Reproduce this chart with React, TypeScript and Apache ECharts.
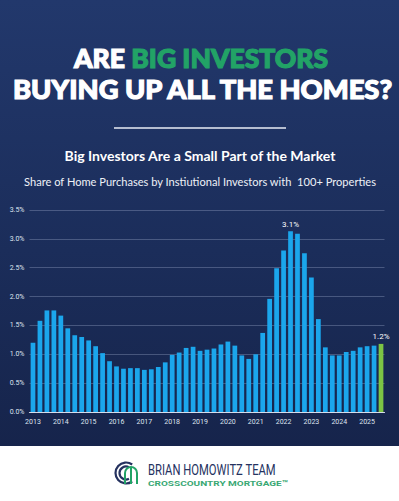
import React, { useEffect, useRef } from "react";
import * as echarts from "echarts";

const years = ["2013", "2014", "2015", "2016", "2017", "2018", "2019", "2020", "2021", "2022", "2023", "2024", "2025"];
const quarters = ["Q1", "Q2", "Q3", "Q4"];
// Share of home purchases (%) by institutional investors with 100+ properties, quarterly 2013 Q1 – 2025 Q3
const shareValues = [
  1.2, 1.58, 1.76, 1.76,
  1.67, 1.45, 1.33, 1.3,
  1.24, 1.14, 1.02, 0.88,
  0.79, 0.75, 0.76, 0.76,
  0.73, 0.74, 0.78, 0.86,
  0.99, 1.03, 1.11, 1.13,
  1.06, 1.08, 1.1, 1.17,
  1.22, 1.15, 0.98, 0.92,
  1.0, 1.37, 1.96, 2.49,
  2.8, 3.13, 3.09, 2.75,
  2.33, 1.61, 1.12, 0.98,
  0.98, 1.04, 1.06, 1.12,
  1.14, 1.15, 1.18,
];
const labelledPoints: Record<number, string> = { 37: "3.1%", 50: "1.2%" };
const yTicks = [0, 0.5, 1, 1.5, 2, 2.5, 3, 3.5];

const categories = years.flatMap((y) => quarters.map((q) => `${y} ${q}`)).slice(0, shareValues.length);

const BLUE = "#1ba6ec";
const GREEN = "#7cc444";
const TITLE_GREEN = "#22a366";
const NAVY = "#25325f";

export default function App() {
  const ref = useRef<HTMLDivElement>(null);
  useEffect(() => {
    if (!ref.current) return;
    const chart = echarts.init(ref.current, undefined, { renderer: "svg" });
    const lastIdx = shareValues.length - 1;
    chart.setOption({
      animation: false,
      backgroundColor: {
        type: "linear",
        x: 0, y: 0, x2: 0, y2: 1,
        colorStops: [
          { offset: 0, color: "#22386c" },
          { offset: 0.5, color: "#1b2d5a" },
          { offset: 0.9, color: "#16244b" },
          { offset: 1, color: "#16244b" },
        ],
      },
      grid: { left: 29.5, right: 14.5, top: 210, bottom: 89, containLabel: false },
      xAxis: {
        type: "category",
        data: categories,
        axisTick: { show: false },
        axisLine: { lineStyle: { color: "#d6dcea", width: 1.2 } },
        axisLabel: {
          interval: 3,
          margin: 6,
          color: "#dfe4ef",
          fontSize: 7,
          fontFamily: "Roboto",
          formatter: (v: string) => v.split(" ")[0],
        },
      },
      yAxis: {
        type: "value",
        min: yTicks[0],
        max: yTicks[yTicks.length - 1],
        interval: 0.5,
        axisLabel: {
          margin: 5,
          color: "#dfe4ef",
          fontSize: 7,
          fontFamily: "Roboto",
          formatter: (v: number) => v.toFixed(1) + "%",
        },
        splitLine: { lineStyle: { color: "rgba(170,185,215,0.32)", width: 1 } },
        axisLine: { show: false },
        axisTick: { show: false },
      },
      series: [
        {
          type: "bar",
          barWidth: "68%",
          data: shareValues.map((v, i) => ({
            value: v,
            itemStyle: { color: i === lastIdx ? GREEN : BLUE },
            label: labelledPoints[i]
              ? {
                  show: true,
                  position: "top",
                  distance: 3,
                  formatter: labelledPoints[i],
                  color: "#ffffff",
                  fontSize: 8,
                  fontFamily: "Roboto",
                }
              : { show: false },
          })),
        },
      ],
      graphic: [
        { type: "rect", shape: { x: 0, y: 446, width: 399, height: 55 }, style: { fill: "#ffffff" } },
        {
          type: "text",
          x: 201,
          y: 58,
          style: {
            text: "{w|ARE }{g|BIG INVESTORS}",
            textAlign: "center",
            textVerticalAlign: "middle",
            rich: {
              w: { fill: "#ffffff", stroke: "#ffffff", lineWidth: 1.2, fontSize: 26.5, fontWeight: 900, fontFamily: "Lato" },
              g: { fill: TITLE_GREEN, stroke: TITLE_GREEN, lineWidth: 1.2, fontSize: 26.5, fontWeight: 900, fontFamily: "Lato" },
            },
          },
        },
        {
          type: "text",
          x: 202.5,
          y: 88,
          style: {
            text: "BUYING UP ALL THE HOMES?",
            fill: "#ffffff",
            stroke: "#ffffff",
            lineWidth: 1.2,
            fontSize: 27.3,
            fontWeight: 900,
            fontFamily: "Lato",
            textAlign: "center",
            textVerticalAlign: "middle",
          },
        },
        { type: "line", shape: { x1: 114, y1: 128, x2: 286, y2: 128 }, style: { stroke: "#e8ecf4", lineWidth: 1.5 } },
        {
          type: "text",
          x: 200,
          y: 155,
          style: {
            text: "Big Investors Are a Small Part of the Market",
            fill: "#ffffff",
            fontSize: 14,
            fontWeight: "bold",
            fontFamily: "Lato",
            textAlign: "center",
            textVerticalAlign: "middle",
          },
        },
        {
          type: "text",
          x: 200,
          y: 181,
          style: {
            text: "Share of Home Purchases by Instiutional Investors with  100+ Properties",
            fill: "#eef1f7",
            fontSize: 11.1,
            fontWeight: "normal",
            fontFamily: "Lato",
            textAlign: "center",
            textVerticalAlign: "middle",
          },
        },
        // logo icon
        { type: "arc", shape: { cx: 126, cy: 473, r: 10.5, startAngle: Math.PI * 0.3, endAngle: Math.PI * 1.7, clockwise: true }, style: { stroke: NAVY, lineWidth: 2.2, fill: "none" } },
        { type: "arc", shape: { cx: 126, cy: 473, r: 6.5, startAngle: Math.PI * 0.35, endAngle: Math.PI * 1.65, clockwise: true }, style: { stroke: NAVY, lineWidth: 2.2, fill: "none" } },
        { type: "arc", shape: { cx: 131, cy: 473, r: 6, startAngle: Math.PI, endAngle: Math.PI * 2, clockwise: true }, style: { stroke: TITLE_GREEN, lineWidth: 2, fill: "none" } },
        { type: "line", shape: { x1: 125, y1: 473, x2: 125, y2: 484 }, style: { stroke: TITLE_GREEN, lineWidth: 2 } },
        { type: "line", shape: { x1: 131, y1: 467, x2: 131, y2: 484 }, style: { stroke: TITLE_GREEN, lineWidth: 2 } },
        { type: "line", shape: { x1: 137, y1: 473, x2: 137, y2: 484 }, style: { stroke: TITLE_GREEN, lineWidth: 2 } },
        {
          type: "text",
          x: 148,
          y: 469.5,
          scaleX: 0.75,
          style: {
            text: "BRIAN HOMOWITZ TEAM",
            fill: NAVY,
            fontSize: 15,
            fontFamily: "Roboto",
            textAlign: "left",
            textVerticalAlign: "middle",
          },
        },
        {
          type: "text",
          x: 148,
          y: 483.5,
          scaleX: 1.25,
          style: {
            text: "CROSSCOUNTRY MORTGAGE™",
            fill: "#3aa874",
            fontSize: 8,
            fontWeight: "bold",
            fontFamily: "Roboto",
            textAlign: "left",
            textVerticalAlign: "middle",
          },
        },
      ],
    });
    return () => chart.dispose();
  }, []);
  return (
    <div
      ref={ref}
      style={{ position: "fixed", left: 0, top: 0, width: 399, height: 501 }}
    />
  );
}
